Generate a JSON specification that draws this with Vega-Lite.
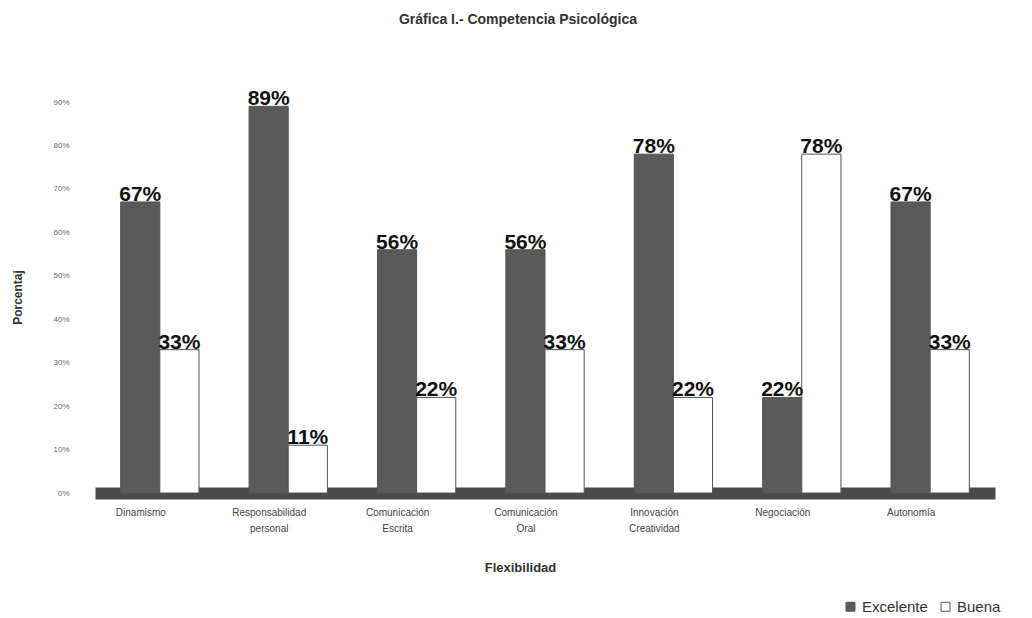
{
  "$schema": "https://vega.github.io/schema/vega-lite/v6.json",
  "width": 900,
  "height": 391,
  "autosize": {"type": "none"},
  "padding": {"left": 95, "top": 102, "right": 37, "bottom": 125},
  "background": "white",
  "title": {
    "text": "Gráfica I.- Competencia Psicológica",
    "font": "Liberation Sans",
    "fontSize": 14,
    "fontWeight": "bold",
    "color": "#333333",
    "offset": 61,
    "dx": -27
  },
  "config": {"view": {"stroke": null}},
  "data": {
    "values": [
      {"competencia": "Dinamismo", "nivel": "Excelente", "valor": 0.67},
      {"competencia": "Dinamismo", "nivel": "Buena", "valor": 0.33},
      {"competencia": "Responsabilidad personal", "nivel": "Excelente", "valor": 0.89},
      {"competencia": "Responsabilidad personal", "nivel": "Buena", "valor": 0.11},
      {"competencia": "Comunicación Escrita", "nivel": "Excelente", "valor": 0.56},
      {"competencia": "Comunicación Escrita", "nivel": "Buena", "valor": 0.22},
      {"competencia": "Comunicación Oral", "nivel": "Excelente", "valor": 0.56},
      {"competencia": "Comunicación Oral", "nivel": "Buena", "valor": 0.33},
      {"competencia": "Innovación Creatividad", "nivel": "Excelente", "valor": 0.78},
      {"competencia": "Innovación Creatividad", "nivel": "Buena", "valor": 0.22},
      {"competencia": "Negociación", "nivel": "Excelente", "valor": 0.22},
      {"competencia": "Negociación", "nivel": "Buena", "valor": 0.78},
      {"competencia": "Autonomía", "nivel": "Excelente", "valor": 0.67},
      {"competencia": "Autonomía", "nivel": "Buena", "valor": 0.33}
    ]
  },
  "encoding": {
    "x": {
      "field": "competencia",
      "type": "nominal",
      "sort": null,
      "title": "Flexibilidad",
      "scale": {"paddingInner": 0.39, "paddingOuter": 0.2},
      "axis": {
        "labelAngle": 0,
        "labelExpr": "split(datum.label, ' ')",
        "labelFont": "Liberation Sans",
        "labelFontSize": 10,
        "labelColor": "#444444",
        "labelPadding": 14,
        "labelOffset": -19,
        "labelLineHeight": 16,
        "ticks": false,
        "domain": true,
        "domainColor": "#4a4a4a",
        "domainWidth": 12,
        "titleFont": "Liberation Sans",
        "titleFontSize": 13,
        "titleFontWeight": "bold",
        "titleColor": "#333333",
        "titleX": 425,
        "titleY": 68
      }
    },
    "xOffset": {"field": "nivel", "sort": ["Excelente", "Buena"]},
    "y": {
      "field": "valor",
      "type": "quantitative",
      "title": "Porcentaj",
      "scale": {"domain": [0, 0.9]},
      "axis": {
        "format": ".0%",
        "values": [0, 0.1, 0.2, 0.3, 0.4, 0.5, 0.6, 0.7, 0.8, 0.9],
        "grid": false,
        "domain": false,
        "ticks": false,
        "labelFont": "Liberation Sans",
        "labelFontSize": 8,
        "labelColor": "#666666",
        "labelPadding": 26,
        "titleFont": "Liberation Sans",
        "titleFontSize": 12,
        "titleFontWeight": "bold",
        "titleColor": "#333333",
        "titleX": -71,
        "titleY": 195,
        "titleAlign": "center",
        "titleAngle": -90
      }
    }
  },
  "layer": [
    {
      "mark": {"type": "bar", "stroke": "#555555", "strokeWidth": 1},
      "encoding": {
        "color": {
          "field": "nivel",
          "type": "nominal",
          "title": null,
          "scale": {"domain": ["Excelente", "Buena"], "range": ["#5a5a5a", "#ffffff"]},
          "legend": {
            "orient": "none",
            "direction": "horizontal",
            "legendX": 748,
            "legendY": 497,
            "symbolType": "square",
            "symbolSize": 80,
            "symbolStrokeColor": "#555555",
            "symbolStrokeWidth": 1,
            "labelFont": "Liberation Sans",
            "labelFontSize": 15,
            "labelColor": "#333333",
            "columnPadding": 10
          }
        }
      }
    },
    {
      "mark": {
        "type": "text",
        "baseline": "bottom",
        "dy": 3,
        "font": "Liberation Sans",
        "fontSize": 21,
        "fontWeight": "bold",
        "color": "#111111"
      },
      "encoding": {"text": {"field": "valor", "format": ".0%"}}
    }
  ]
}
